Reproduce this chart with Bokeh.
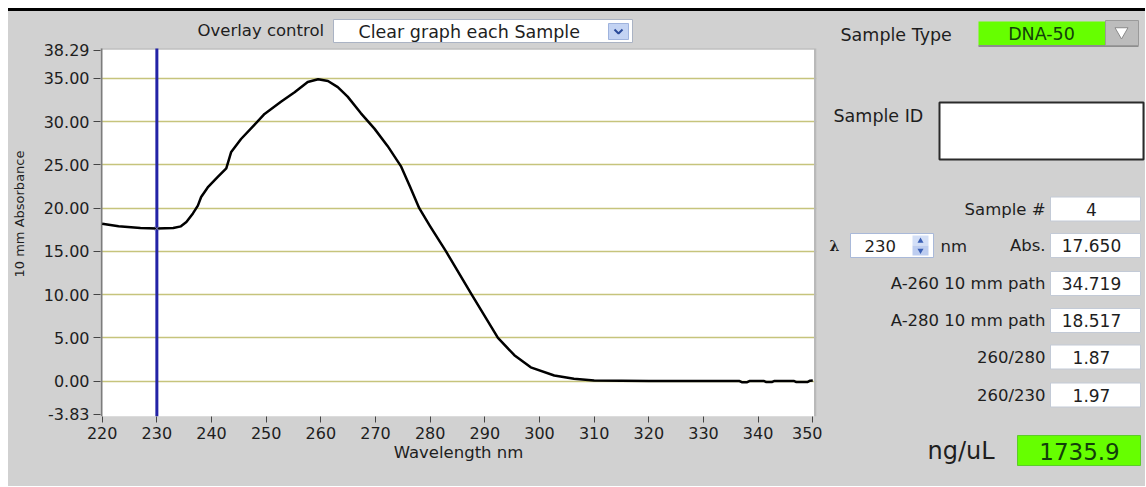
from bokeh.plotting import figure
from bokeh.models import Range1d, FixedTicker, PrintfTickFormatter, Spacer
from bokeh.layouts import column, row
from bokeh.embed import file_html
from bokeh.resources import INLINE
from bokeh.core.properties import value

# ---------------- data ----------------
wavelength_nm = [220, 223, 227, 230, 233, 234.4, 235.4, 236.6, 237.5, 238.1,
                 239.3, 241.1, 242.7, 243.6, 245.4, 247.8, 249.7, 252.7, 255.2, 257.6,
                 259.5, 261.3, 263.1, 264.9, 267.3, 269.8, 272.2, 274.7, 276.3, 278.0,
                 280.0, 282.9, 287.6, 292.4, 295.4, 298.4, 302.7, 306.3, 310, 320,
                 330, 336.5, 337, 338, 338.5, 341, 341.5, 342.5, 343, 346.5,
                 347, 349, 349.5, 350]
absorbance = [18.2, 17.9, 17.7, 17.65, 17.7, 17.9, 18.4, 19.4, 20.3, 21.3,
              22.4, 23.6, 24.6, 26.5, 28.0, 29.6, 30.9, 32.3, 33.4, 34.6,
              34.9, 34.7, 34.0, 32.9, 31.0, 29.2, 27.2, 24.8, 22.5, 20.0,
              17.9, 15.0, 10.0, 5.0, 3.0, 1.6, 0.66, 0.28, 0.08, 0.03,
              0.03, 0.03, -0.12, -0.12, 0.03, 0.03, -0.1, -0.1, 0.03, 0.03,
              -0.1, -0.1, 0.05, 0.08]
x_tick_values = [220, 230, 240, 250, 260, 270, 280, 290, 300, 310, 320, 330, 340, 350]
y_tick_values = [-3.83, 0, 5, 10, 15, 20, 25, 30, 35, 38.29]
grid_values = [0, 5, 10, 15, 20, 25, 30, 35]
cursor_nm = [230]
cursor_abs = [17.65]

x_title = "Wavelength nm"
y_title = "10 mm Absorbance"
overlay_label = "Overlay control"
overlay_choice = "Clear graph each Sample"
sample_type_label = "Sample Type"
sample_type = "DNA-50"
sample_id_label = "Sample ID"
row_labels = ["Sample #", "Abs.", "A-260 10 mm path", "A-280 10 mm path", "260/280", "260/230"]
row_values = ["4", "17.650", "34.719", "18.517", "1.87", "1.97"]
lambda_value = "230"
conc_label = "ng/uL"
conc_value = "1735.9"

# ---------------- layout constants (page pixels) ----------------
GRAY = "#d1d1d1"
TXT = "#1e1e1e"
FONT = "DejaVu Sans"
PAGE_X0, PAGE_Y0 = 8, 8
BLACK_H = 3
MAIN_W, RIGHT_W = 814, 323
BODY_TOP = PAGE_Y0 + BLACK_H          # 11
BODY_H = 475
BODY_BOT = BODY_TOP + BODY_H
FR_L, FR_R, FR_T, FR_B = 100, 816, BODY_TOP, 416
PA_L, PA_R, PA_T, PA_B = 100, 814, 48, 416   # white plot area
XT0_PX, XT1_PX = 101.7, 812.3
YT0_PX, YT1_PX = 413.8, 49.5

xs = (x_tick_values[-1] - x_tick_values[0]) / (XT1_PX - XT0_PX)
x_start = x_tick_values[0] - (XT0_PX - FR_L) * xs
x_end = x_tick_values[-1] + (FR_R - XT1_PX) * xs
ys = (y_tick_values[-1] - y_tick_values[0]) / (YT0_PX - YT1_PX)
y_start = y_tick_values[0] - (FR_B - YT0_PX) * ys
y_end = y_tick_values[-1] + (YT1_PX - FR_T) * ys


def label(fig, x, y, txt, size="16px", align="left", color=TXT, font=FONT, style="normal", **kw):
    fig.text(x=[x], y=[y], text=[txt], text_font=value(font), text_font_size=size,
             text_align=align, text_baseline="middle", text_color=color,
             text_font_style=style, **kw)


# ---------------- main plot ----------------
p = figure(width=MAIN_W, height=BODY_H, output_backend="svg", toolbar_location=None,
           x_range=Range1d(x_start, x_end), y_range=Range1d(y_start, y_end),
           min_border_left=FR_L - PAGE_X0, min_border_right=PAGE_X0 + MAIN_W - FR_R,
           min_border_top=0, min_border_bottom=BODY_BOT - FR_B,
           background_fill_color=GRAY, border_fill_color=GRAY, outline_line_color=None,
           frame_align=False)
p.extra_x_ranges = {"px": Range1d(FR_L, FR_R)}
p.extra_y_ranges = {"px": Range1d(FR_B, FR_T)}

p.xgrid.visible = False
p.ygrid.ticker = FixedTicker(ticks=grid_values)
p.ygrid.grid_line_color = "#c6c47c"
p.ygrid.grid_line_width = 1.6

p.xaxis.ticker = FixedTicker(ticks=x_tick_values)
p.yaxis.ticker = FixedTicker(ticks=y_tick_values)
p.yaxis.formatter = PrintfTickFormatter(format="%.2f")
for ax in (p.xaxis, p.yaxis):
    ax.axis_line_color = None
    ax.minor_tick_line_color = None
    ax.major_tick_line_color = "#444444"
    ax.major_tick_in = 0
    ax.major_label_text_font = FONT
    ax.major_label_text_font_size = "16px"
    ax.major_label_text_color = TXT
    ax.axis_label_text_font = FONT
    ax.axis_label_text_font_style = "normal"
    ax.axis_label_text_color = TXT
p.yaxis.major_tick_out = 7
p.yaxis.major_label_standoff = 4
p.yaxis.axis_label = y_title
p.yaxis.axis_label_text_font_size = "13px"
p.yaxis.axis_label_standoff = 14
p.xaxis.major_tick_out = 6
p.xaxis.major_label_standoff = 4
p.xaxis.axis_label = x_title
p.xaxis.axis_label_text_font_size = "16.5px"
p.xaxis.axis_label_standoff = 1

# white plot area and its border
p.quad(left=[PA_L], right=[PA_R], top=[PA_T], bottom=[PA_B], fill_color="white", line_color=None,
       x_range_name="px", y_range_name="px", level="image")
p.segment(x0=[PA_L], x1=[PA_R], y0=[PA_T + 0.5], y1=[PA_T + 0.5], line_color="#a0a0a0", line_width=1,
          x_range_name="px", y_range_name="px")
p.segment(x0=[PA_L + 1], x1=[PA_L + 1], y0=[PA_T], y1=[PA_B], line_color="#7c7c7c", line_width=2,
          x_range_name="px", y_range_name="px")
p.quad(left=[PA_R - 0.5], right=[FR_R], top=[PA_T], bottom=[PA_B], fill_color="#b9b9b9", line_color=None,
       x_range_name="px", y_range_name="px")

# cursor line
p.segment(x0=cursor_nm, x1=cursor_nm, y0=[PA_T], y1=[PA_B], line_color="#2323a6", line_width=3,
          y_range_name="px")

# spectrum
p.line(wavelength_nm, absorbance, line_color="black", line_width=2.5, line_join="round")
p.scatter(cursor_nm, cursor_abs, marker="x", size=6, line_color="#8a8ad8", line_width=1)

# overlay control strip
label(p, 197, 30, overlay_label, size="16.5px", x_range_name="px", y_range_name="px")
p.quad(left=[333], right=[632], top=[19], bottom=[42], fill_color="white", line_color="#aab3c4",
       x_range_name="px", y_range_name="px")
p.quad(left=[608], right=[628], top=[23], bottom=[39], fill_color="#c3d3f3", line_color="#9fb3dd",
       x_range_name="px", y_range_name="px")
p.line(x=[614, 618, 622], y=[29, 33, 29], line_color="#2a4a9a", line_width=2,
       x_range_name="px", y_range_name="px")
label(p, 358, 31, overlay_choice, size="17.5px", x_range_name="px", y_range_name="px")

# ---------------- right panel ----------------
RX0 = PAGE_X0 + MAIN_W
r = figure(width=RIGHT_W, height=BODY_H, output_backend="svg", toolbar_location=None,
           x_range=Range1d(RX0, RX0 + RIGHT_W), y_range=Range1d(BODY_BOT, BODY_TOP),
           x_axis_location=None, y_axis_location=None, min_border=0,
           background_fill_color=GRAY, border_fill_color=GRAY, outline_line_color=None,
           frame_align=False)
r.grid.visible = False

GREEN = "#66ff00"
DKGREEN = "#123f0a"
BOX_R = 1140

label(r, 840, 34, sample_type_label, size="17.5px")
r.quad(left=[978], right=[1105], top=[21], bottom=[45], fill_color=GREEN, line_color=None)
r.segment(x0=[978], x1=[1138], y0=[45.5], y1=[45.5], line_color="#8e8e8e", line_width=2)
label(r, 1041, 33, sample_type, size="17.5px", align="center", color=DKGREEN)
r.quad(left=[1105], right=[1138], top=[20], bottom=[45], fill_color="#bcbcbc", line_color="#9a9a9a")
r.scatter([1121], [31], marker="inverted_triangle", size=13, fill_color="white", line_color="#8a8a8a")

label(r, 833, 115, sample_id_label, size="17.5px")
r.quad(left=[939], right=[1143], top=[102], bottom=[159], fill_color="white", line_color="#2a2a2a",
       line_width=2)

row_y = [208.5, 245, 283, 320, 356.5, 394.5]
for lab, val, yy in zip(row_labels, row_values, row_y):
    label(r, 1045, yy, lab, size="16.5px", align="right")
    r.quad(left=[1050], right=[BOX_R], top=[yy - 12], bottom=[yy + 12], fill_color="white",
           line_color="#c3cad6")
    label(r, 1091, yy, val, size="17px", align="center")

# lambda spin control
label(r, 829, 245, "λ", size="14px", style="bold", font="DejaVu Serif")
r.quad(left=[850], right=[933], top=[233], bottom=[257], fill_color="white", line_color="#a9b9d9")
label(r, 864, 245, lambda_value, size="16.5px")
r.quad(left=[912], right=[928], top=[235], bottom=[245], fill_color="#d3dff7", line_color=None)
r.quad(left=[912], right=[928], top=[245], bottom=[255], fill_color="#bdcdf0", line_color=None)
r.scatter([920], [240.5], marker="triangle", size=6, fill_color="#3a5fb5", line_color=None)
r.scatter([920], [250], marker="inverted_triangle", size=6, fill_color="#3a5fb5", line_color=None)
label(r, 940, 246, "nm", size="16.5px")

# concentration
label(r, 927, 450, conc_label, size="24px")
r.quad(left=[1017], right=[BOX_R], top=[435], bottom=[465], fill_color=GREEN, line_color="#5ccc2a")
label(r, 1079, 451, conc_value, size="23px", align="center", color=DKGREEN)

layout = column(Spacer(width=MAIN_W + RIGHT_W, height=BLACK_H, styles={"background-color": "black"}),
                row(p, r),
                styles={"background-color": GRAY}, margin=(PAGE_Y0, 0, 0, PAGE_X0))
open("out.html", "w").write(file_html(layout, INLINE))
